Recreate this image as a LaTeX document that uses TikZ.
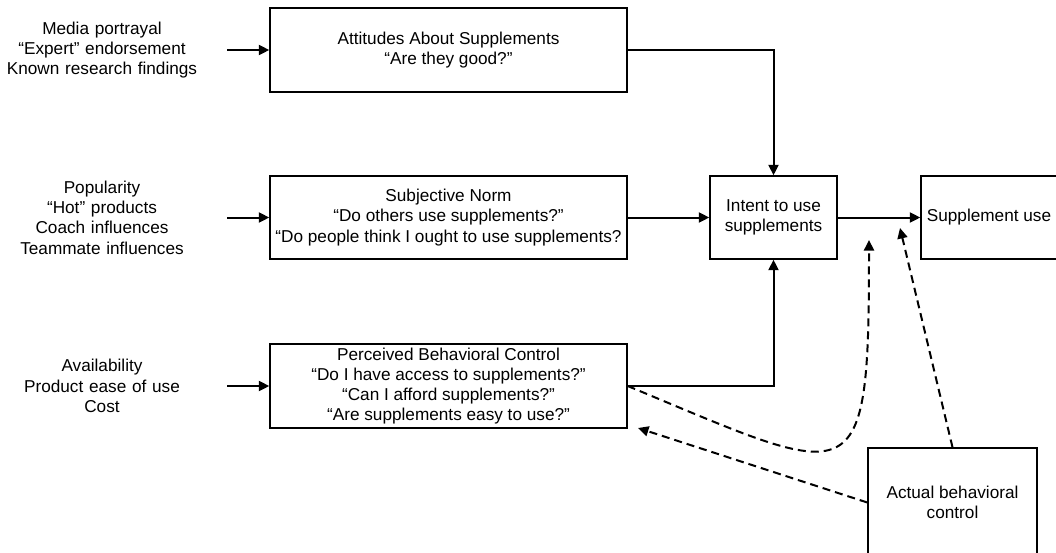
\documentclass[tikz,border=0pt]{standalone}
\usepackage{fontspec}
\setmainfont{Liberation Sans}
\usepackage{tikz}
\usetikzlibrary{arrows.meta,positioning}
\tikzstyle{object} = [rectangle, inner sep=0pt, text width=250pt, align=center, font=\fontsize{17.2}{20.3}\selectfont]
\tikzstyle{element} = [rectangle, inner sep=2pt, align=center, draw=black, line width=1.4pt, font=\fontsize{17.2}{20.3}\selectfont]
\tikzstyle{arrow} = [line width=2pt,-{Triangle[length=10.5pt,width=10pt]}]
\tikzstyle{dasharrow} = [arrow, dash pattern=on 8pt off 5pt]

\begin{document}
\begin{tikzpicture}
			[x=1pt, y=-1pt]
			\useasboundingbox (0,0) rectangle (1056,552);
			\clip (0,0) rectangle (1056,552);
			\node[object] (mediaIn) at (102,50) {Media portrayal\\“Expert” endorsement\\Known research findings};
			\node[element, minimum width=357pt, minimum height=84pt] (attitudes) at (448.5,50) {Attitudes About Supplements\\“Are they good?”};
			\node[object] (popularityIn) at (102,217.5) {Popularity\\“Hot” products\\Coach influences\\Teammate influences};
			\node[element, minimum width=357pt, minimum height=83pt] (subjNorm) at (448.5,217.5) {Subjective Norm\\“Do others use supplements?”\\“Do people think I ought to use supplements?};
			\node[object] (availabilityIn) at (102,386) {Availability\\Product ease of use\\Cost};
			\node[element, minimum width=357pt, minimum height=84pt] (perceivedCtrl) at (448.5,386) {Perceived Behavioral Control\\“Do I have access to supplements?”\\“Can I afford supplements?”\\“Are supplements easy to use?”};
			\node[element, minimum width=127pt, minimum height=83pt] (intent) at (773.5,217.5) {Intent to use\\supplements};
			\node[element, minimum width=136pt, minimum height=83pt] (suppUse) at (989,217.5) {Supplement use};
			\node[element, minimum width=169pt, minimum height=109pt] (actualCtrl) at (952.5,502.5) {Actual behavioral\\control};
			
			\coordinate (intentGap) at (869,240);
			\coordinate (useGap) at (900,228);
			\coordinate (pbcGap) at (638,428);
			
			\draw[arrow] (mediaIn.east) -- (attitudes.west);
			\draw[arrow] (popularityIn.east) -- (subjNorm.west);
			\draw[arrow] (availabilityIn.east) -- (perceivedCtrl.west);
			\draw[arrow] (attitudes.east) -| (intent.north);
			\draw[arrow] (subjNorm.east) -- (intent.west);
			\draw[arrow] (perceivedCtrl.east) -| (intent.south);
			\draw[arrow] (intent.east) -- (suppUse.west);
			\draw[dasharrow] (actualCtrl.north) -- (useGap);
			\draw[dasharrow] (actualCtrl.west) -- (pbcGap);
			\draw[dasharrow] (perceivedCtrl.east) .. controls (859,482) and (869,500) .. (intentGap);
			\end{tikzpicture}
\end{document}
